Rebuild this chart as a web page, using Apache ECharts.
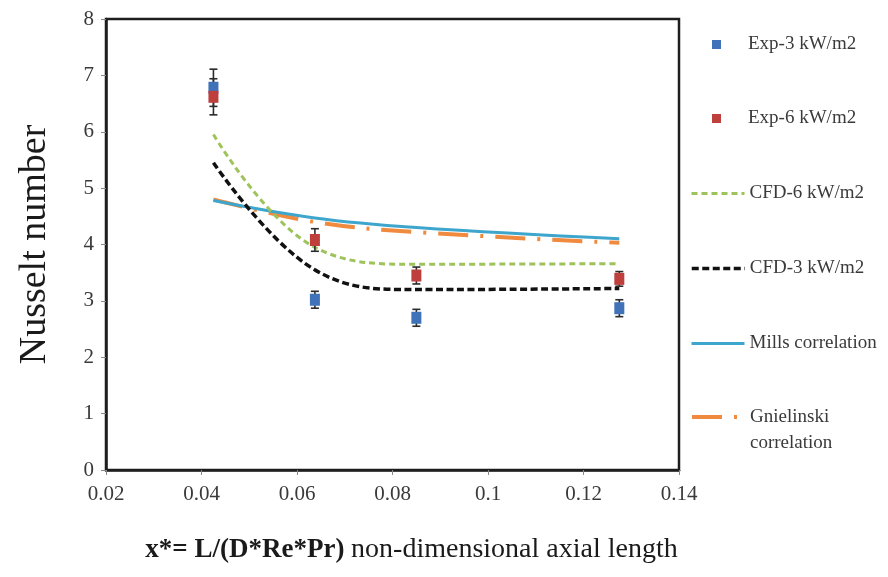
<!DOCTYPE html>
<html>
<head>
<meta charset="utf-8">
<script src="https://cdn.jsdelivr.net/npm/echarts@6/dist/echarts.min.js"></script>
<style>
html,body{margin:0;padding:0;background:#fff;}
#chart{width:888px;height:577px;}
</style>
</head>
<body>
<div id="chart"></div>
<script>
// ---- data ----
const xValues = [0.0425, 0.06375, 0.085, 0.1275];
const exp3 = [6.78, 3.02, 2.70, 2.87];
const exp3Err = [0.33, 0.15, 0.15, 0.15];
const exp6 = [6.62, 4.08, 3.45, 3.39];
const exp6Err = [0.32, 0.20, 0.15, 0.13];
const cfd6 = [5.95, 3.95, 3.65, 3.66];
const cfd3 = [5.45, 3.55, 3.20, 3.22];
const mills = [4.78, 4.47, 4.30, 4.10];
const gnielinski = [4.80, 4.40, 4.22, 4.03];
const xTicks = ['0.02', '0.04', '0.06', '0.08', '0.1', '0.12', '0.14'];
const yTicks = ['0', '1', '2', '3', '4', '5', '6', '7', '8'];
const seriesNames = ['Exp-3 kW/m2', 'Exp-6 kW/m2', 'CFD-6 kW/m2', 'CFD-3 kW/m2', 'Mills correlation', 'Gnielinski\ncorrelation'];

const SERIF = "'Liberation Serif','Times New Roman',serif";
const pair = (xs, ys) => xs.map((x, i) => [x, ys[i]]);
const triple = (xs, ys, es) => xs.map((x, i) => [x, ys[i], es[i]]);

function errRender(params, api) {
  const x = api.value(0), y = api.value(1), e = api.value(2);
  const t = api.coord([x, y + e]);
  const b = api.coord([x, y - e]);
  const w = 4;
  const st = { stroke: '#2b2b2b', lineWidth: 1.6 };
  return {
    type: 'group',
    children: [
      { type: 'line', shape: { x1: t[0], y1: t[1], x2: b[0], y2: b[1] }, style: st },
      { type: 'line', shape: { x1: t[0] - w, y1: t[1], x2: t[0] + w, y2: t[1] }, style: st },
      { type: 'line', shape: { x1: b[0] - w, y1: b[1], x2: b[0] + w, y2: b[1] }, style: st }
    ]
  };
}

const legendText = { fontFamily: SERIF, fontSize: 19, color: '#3a3a3a' };
function lineLegend(name, centerY, width, twoLine) {
  return {
    left: 690, top: twoLine ? centerY - 39 : centerY - 8, orient: 'vertical', padding: 0,
    itemWidth: 53, itemHeight: 12, selectedMode: false,
    data: [name],
    itemStyle: { color: 'transparent', opacity: 0, borderWidth: 0 },
    lineStyle: { width: width },
    formatter: twoLine ? (n) => ' \n' + n : undefined,
    textStyle: Object.assign({}, legendText, twoLine ? { lineHeight: 26 } : {})
  };
}
function squareLegend(name, centerY) {
  return {
    left: 712, top: centerY - 8, orient: 'vertical', padding: 0,
    itemWidth: 9, itemHeight: 9, selectedMode: false,
    data: [{ name: name, icon: 'rect' }],
    itemStyle: { opacity: 1 },
    textStyle: Object.assign({}, legendText, { padding: [0, 0, 0, 22] })
  };
}

const chart = echarts.init(document.getElementById('chart'));
chart.setOption({
  backgroundColor: '#ffffff',
  animation: false,
  grid: { left: 106, right: 209, top: 19, bottom: 107, show: true, borderColor: '#1e1e1e', borderWidth: 2.5, backgroundColor: 'transparent' },
  xAxis: {
    type: 'value', min: 0.02, max: 0.14, interval: 0.02,
    axisLine: { show: true, lineStyle: { color: '#1e1e1e', width: 2.5 } },
    axisTick: { show: true, inside: false, length: 5, lineStyle: { color: '#888', width: 1 } },
    splitLine: { show: false },
    axisLabel: { fontFamily: SERIF, fontSize: 21, color: '#3a3a3a', margin: 14,
      formatter: (v) => { const i = Math.round((v - 0.02) / 0.02); return xTicks[i] !== undefined ? xTicks[i] : ''; } },
    name: '{b|x*= L/(D*Re*Pr)}  {n|non-dimensional axial length}',
    nameLocation: 'middle', nameGap: 66,
    nameTextStyle: {
      padding: [0, 0, 0, 38],
      rich: {
        b: { fontFamily: SERIF, fontSize: 27, fontWeight: 'bold', color: '#1a1a1a' },
        n: { fontFamily: SERIF, fontSize: 28, color: '#1a1a1a' }
      }
    }
  },
  yAxis: {
    type: 'value', min: 0, max: 8, interval: 1,
    axisLine: { show: true, lineStyle: { color: '#1e1e1e', width: 2.5 } },
    axisTick: { show: true, inside: false, length: 5, lineStyle: { color: '#888', width: 1 } },
    splitLine: { show: false },
    axisLabel: { fontFamily: SERIF, fontSize: 21, color: '#3a3a3a', margin: 12,
      formatter: (v) => yTicks[Math.round(v)] },
    name: 'Nusselt number', nameLocation: 'middle', nameGap: 52, nameRotate: 90,
    nameTextStyle: { fontFamily: SERIF, fontSize: 38, color: '#1a1a1a' }
  },
  legend: [
    squareLegend(seriesNames[0], 43),
    squareLegend(seriesNames[1], 117),
    lineLegend(seriesNames[2], 192, 3),
    lineLegend(seriesNames[3], 267, 3.5),
    lineLegend(seriesNames[4], 342, 3),
    lineLegend(seriesNames[5], 417, 4, true)
  ],
  series: [
    { name: seriesNames[5], type: 'line', data: pair(xValues, gnielinski), smooth: 0.4, symbol: 'none',
      lineStyle: { color: '#ef8a3e', width: 4, type: [30, 12, 3, 12] }, itemStyle: { color: '#ef8a3e' }, z: 2 },
    { name: seriesNames[4], type: 'line', data: pair(xValues, mills), smooth: 0.4, symbol: 'none',
      lineStyle: { color: '#3ea6cc', width: 3 }, itemStyle: { color: '#3ea6cc' }, z: 3 },
    { name: seriesNames[2], type: 'line', data: pair(xValues, cfd6), smooth: 0.4, symbol: 'none',
      lineStyle: { color: '#9dc35a', width: 3, type: [6, 4] }, itemStyle: { color: '#9dc35a' }, z: 3 },
    { name: seriesNames[3], type: 'line', data: pair(xValues, cfd3), smooth: 0.4, symbol: 'none',
      lineStyle: { color: '#111111', width: 3.5, type: [7, 3.5] }, itemStyle: { color: '#111111' }, z: 3 },
    { type: 'custom', renderItem: errRender, data: triple(xValues, exp3, exp3Err), z: 4, silent: true },
    { type: 'custom', renderItem: errRender, data: triple(xValues, exp6, exp6Err), z: 4, silent: true },
    { name: seriesNames[0], type: 'scatter', data: pair(xValues, exp3), symbol: 'rect', symbolSize: [10, 12],
      itemStyle: { color: '#3f72b8', opacity: 1 }, z: 5 },
    { name: seriesNames[1], type: 'scatter', data: pair(xValues, exp6), symbol: 'rect', symbolSize: [10, 12],
      itemStyle: { color: '#bf3f3c', opacity: 1 }, z: 6 }
  ]
});
</script>
</body>
</html>
